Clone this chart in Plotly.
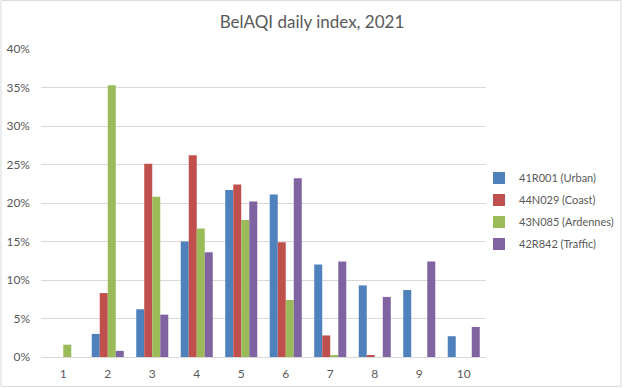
import plotly.graph_objects as go

categories = ["1", "2", "3", "4", "5", "6", "7", "8", "9", "10"]
urban = [0.0, 3.0, 6.2, 15.0, 21.7, 21.1, 12.0, 9.3, 8.7, 2.7]
coast = [0.0, 8.3, 25.1, 26.2, 22.4, 14.9, 2.8, 0.2, 0.0, 0.0]
ardennes = [1.6, 35.3, 20.8, 16.7, 17.8, 7.4, 0.2, 0.0, 0.0, 0.0]
traffic = [0.0, 0.8, 5.5, 13.6, 20.2, 23.2, 12.4, 7.8, 12.4, 3.9]
series_names = ["41R001 (Urban)", "44N029 (Coast)", "43N085 (Ardennes)", "42R842 (Traffic)"]
y_ticks = [0, 5, 10, 15, 20, 25, 30, 35, 40]

colors = ["#4F81BD", "#C0504D", "#9BBB59", "#8064A2"]

fig = go.Figure()
for i, (name, vals) in enumerate(zip(series_names, [urban, coast, ardennes, traffic])):
    fig.add_trace(go.Bar(
        x=categories, y=[v / 100 for v in vals], name=name,
        legendgroup=f"g{i}",
        marker=dict(color=colors[i], line=dict(width=0)),
    ))

font_family = "Lato, 'Liberation Sans', sans-serif"
fig.update_layout(
    width=624, height=388,
    paper_bgcolor="white", plot_bgcolor="white",
    margin=dict(l=41, r=138, t=49, b=31, pad=0, autoexpand=False),
    barmode="group", bargap=0.28, bargroupgap=0,
    title=dict(text="BelAQI daily index, 2021", x=0.5, xanchor="center",
               y=1 - 22 / 388, yanchor="middle",
               font=dict(family=font_family, size=17, color="#595959")),
    font=dict(family=font_family, size=12, color="#595959"),
    legend=dict(x=(479 - 41) / 445, xanchor="left", y=0.474, yanchor="middle",
                traceorder="grouped", tracegroupgap=3,
                font=dict(size=11, color="#595959"), bgcolor="rgba(0,0,0,0)"),
    xaxis=dict(type="category", showgrid=False, showline=True, linecolor="#D9D9D9",
               linewidth=1, ticks="", tickfont=dict(size=12, color="#595959"),
               ticklabelstandoff=6),
    yaxis=dict(range=[0, 0.4], tickvals=[t / 100 for t in y_ticks], tickformat=".0%",
               showgrid=True, gridcolor="#D9D9D9", gridwidth=1, zeroline=False,
               showline=False, ticks="", tickfont=dict(size=12, color="#595959"),
               ticklabelstandoff=10),
    shapes=[dict(type="rect", xref="paper", yref="paper",
                 x0=(1 - 41) / 445, x1=(621 - 41) / 445,
                 y0=(356.7 - 386) / 307.4, y1=(356.7 - 1) / 307.4,
                 line=dict(color="#D9D9D9", width=1), fillcolor="rgba(0,0,0,0)", layer="below")],
)

fig.write_html("out.html", config={"displayModeBar": False},
               post_script="document.body.style.margin='0';document.body.style.overflow='hidden';")
